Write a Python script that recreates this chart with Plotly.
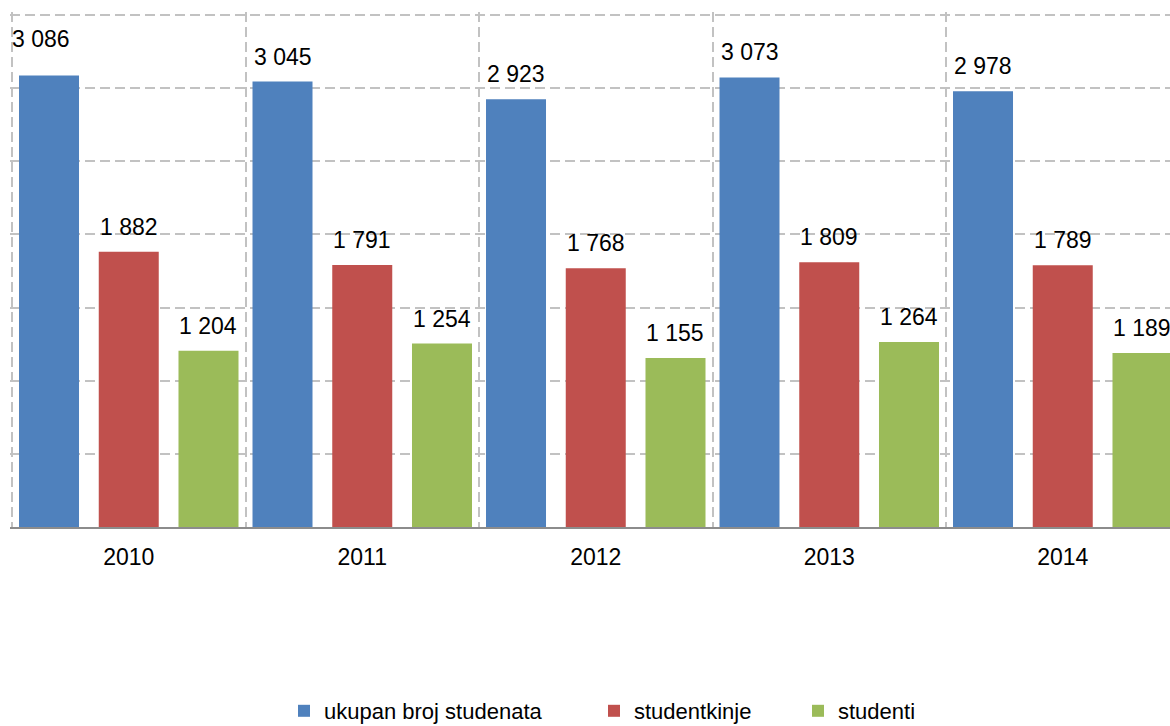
import plotly.graph_objects as go

years = ["2010", "2011", "2012", "2013", "2014"]
series_names = ["ukupan broj studenata", "studentkinje", "studenti"]
total = [3086, 3045, 2923, 3073, 2978]
female = [1882, 1791, 1768, 1809, 1789]
male = [1204, 1254, 1155, 1264, 1189]

colors = ["#4F81BD", "#C0504D", "#9BBB59"]
series = [total, female, male]

W, H = 1170, 726
ML, MR, MT, MB = 10, 0, 12, 199
plot_w = W - ML - MR
cat_px = 233.5
x_min = -0.5 - 2 / cat_px
x_max = x_min + plot_w / cat_px
y_top = 3520

bar_w = 0.257
gap = 0.0845
offsets = [-0.47 + k * (bar_w + gap) for k in range(3)]

FONT = "Liberation Sans, Arial, sans-serif"
GRID = "#C2C2C2"
DASH = "10px,5px"

fig = go.Figure()
xs = list(range(len(years)))
for k, (name, vals) in enumerate(zip(series_names, series)):
    fig.add_trace(go.Bar(
        x=xs, y=vals, name=name,
        marker=dict(color=colors[k], line=dict(width=0)),
        width=bar_w, offset=offsets[k],
        legend=["legend", "legend2", "legend3"][k],
        hoverinfo="skip",
    ))

# manual nudge (like a moved label in the original)
nudge = {(0, 0): (-8, 12)}
annotations = []
for k, vals in enumerate(series):
    for i, v in enumerate(vals):
        dx, dy = nudge.get((k, i), (0, 0))
        annotations.append(dict(
            x=i + offsets[k] + bar_w / 2, y=v, xref="x", yref="y",
            text=f"{v:,}".replace(",", " "), showarrow=False,
            yanchor="bottom", xanchor="center", yshift=10 + dy, xshift=dx,
            font=dict(family=FONT, size=23, color="#000000"),
        ))

plot_h = H - MT - MB
def py(ypix):
    return (H - MB - ypix) / plot_h
def px(xpix):
    return (xpix - ML) / plot_w

legend_common = dict(orientation="h", yanchor="top", xanchor="left",
                     font=dict(family=FONT, size=22, color="#000000"),
                     bgcolor="rgba(0,0,0,0)", borderwidth=0, itemwidth=30)

fig.update_layout(
    width=W, height=H,
    margin=dict(l=ML, r=MR, t=MT, b=MB, autoexpand=False),
    paper_bgcolor="white", plot_bgcolor="white",
    barmode="group",
    showlegend=True,
    legend=dict(x=px(284), y=py(690), **legend_common),
    legend2=dict(x=px(594), y=py(690), **legend_common),
    legend3=dict(x=px(798), y=py(690), **legend_common),
    annotations=annotations,
    xaxis=dict(
        type="linear", range=[x_min, x_max],
        tickmode="array", tickvals=xs, ticktext=years,
        showgrid=False, zeroline=False,
        showline=True, linecolor="#8C8C8C", linewidth=1.5,
        ticks="", ticklabelstandoff=9,
        tickfont=dict(family=FONT, size=23, color="#000000"),
        minor=dict(tickmode="array", tickvals=[-0.5, 0.5, 1.5, 2.5, 3.5, 4.5],
                   showgrid=True, gridcolor=GRID, gridwidth=1.5,
                   griddash=DASH, ticks=""),
    ),
    yaxis=dict(
        range=[0, y_top], tickmode="linear", tick0=0, dtick=500,
        showticklabels=False, ticks="",
        showgrid=True, gridcolor=GRID, gridwidth=1.5, griddash=DASH,
        zeroline=False, showline=False,
    ),
)

fig.write_html(
    "out.html",
    config={"displayModeBar": False},
    post_script="document.body.style.margin='0';document.body.style.overflow='hidden';",
)
